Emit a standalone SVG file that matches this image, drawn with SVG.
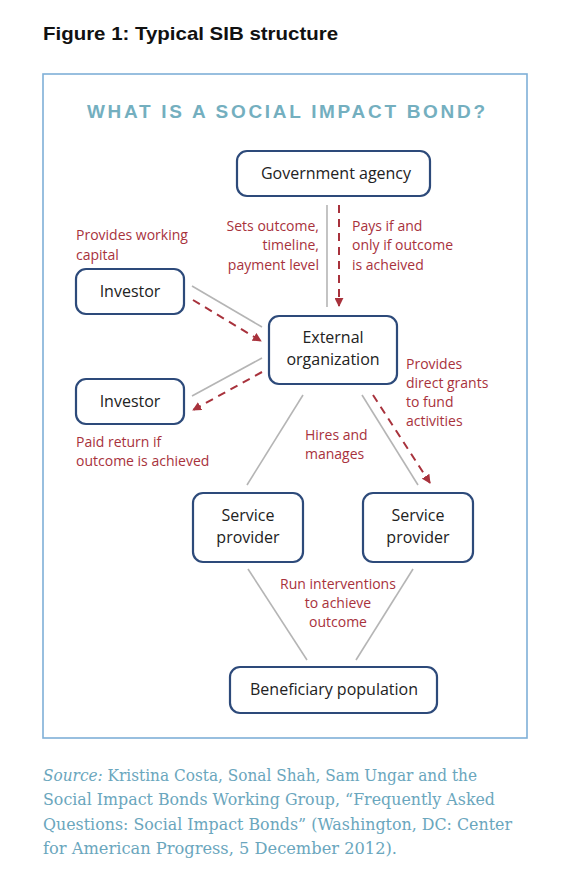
<svg xmlns="http://www.w3.org/2000/svg" width="576" height="875" viewBox="0 0 576 875">
<style>
.box{fill:#fff;stroke:#2d4a7a;stroke-width:2.2}
.nt{font-family:"Open Sans","Liberation Sans",sans-serif;font-size:16px;fill:#222;text-anchor:middle}
.lb{font-family:"Open Sans","Liberation Sans",sans-serif;font-size:14px;fill:#a8323c}
.gl{stroke:#b5b5b5;stroke-width:1.6;fill:none}
.rd{stroke:#a8323c;stroke-width:2;stroke-dasharray:8 6;fill:none;marker-end:url(#ar)}
.src{font-family:"DejaVu Serif","Liberation Serif",serif;font-size:16.5px;fill:#6aa6bd}
</style>
<defs>
<marker id="ar" viewBox="0 0 10 10" refX="9" refY="5" markerWidth="4.5" markerHeight="4.5" orient="auto" markerUnits="strokeWidth">
<path d="M0,0 L10,5 L0,10 z" fill="#a8323c"/>
</marker>
</defs>
<rect width="576" height="875" fill="#fff"/>
<text x="43" y="40" font-family="Liberation Sans,sans-serif" font-weight="bold" font-size="19" fill="#111" textLength="295" lengthAdjust="spacingAndGlyphs">Figure 1: Typical SIB structure</text>
<rect x="43" y="74" width="484" height="664" fill="none" stroke="#7fb0d8" stroke-width="1.6"/>
<text x="286" y="118" font-family="Liberation Sans,sans-serif" font-size="19" font-weight="bold" fill="#74afbf" text-anchor="middle" textLength="398">WHAT IS A SOCIAL IMPACT BOND?</text>

<g id="connectors">
<line class="gl" x1="327" y1="205" x2="327" y2="307"/>
<path class="rd" d="M339,205 L339,306"/>
<line class="gl" x1="192" y1="286" x2="262" y2="327"/>
<path class="rd" d="M193,300 L261,341"/>
<line class="gl" x1="262" y1="358" x2="192" y2="396"/>
<path class="rd" d="M262,372 L193,410"/>
<line class="gl" x1="303" y1="395" x2="247" y2="485"/>
<line class="gl" x1="362" y1="395" x2="418" y2="485"/>
<path class="rd" d="M373,395 L430,483"/>
<line class="gl" x1="248" y1="569" x2="307" y2="660"/>
<line class="gl" x1="413" y1="569" x2="356" y2="660"/>
</g>

<g id="government">
<rect class="box" x="237" y="151" width="193" height="45" rx="10"/>
<text class="nt" x="336" y="179">Government agency</text>
</g>
<g id="investor1">
<rect class="box" x="76" y="269" width="108" height="45" rx="10"/>
<text class="nt" x="130" y="297">Investor</text>
</g>
<g id="external">
<rect class="box" x="269" y="316" width="128" height="68" rx="10"/>
<text class="nt" x="333" y="343">External</text>
<text class="nt" x="333" y="365">organization</text>
</g>
<g id="investor2">
<rect class="box" x="76" y="379" width="108" height="45" rx="10"/>
<text class="nt" x="130" y="407">Investor</text>
</g>
<g id="provider1">
<rect class="box" x="193" y="493" width="110" height="69" rx="10"/>
<text class="nt" x="248" y="521">Service</text>
<text class="nt" x="248" y="543">provider</text>
</g>
<g id="provider2">
<rect class="box" x="363" y="493" width="110" height="69" rx="10"/>
<text class="nt" x="418" y="521">Service</text>
<text class="nt" x="418" y="543">provider</text>
</g>
<g id="beneficiary">
<rect class="box" x="230" y="667" width="207" height="46" rx="10"/>
<text class="nt" x="334" y="695">Beneficiary population</text>
</g>

<g id="labels">
<text class="lb" x="319" text-anchor="end"><tspan x="319" y="231">Sets outcome,</tspan><tspan x="319" y="250">timeline,</tspan><tspan x="319" y="270">payment level</tspan></text>
<text class="lb"><tspan x="352" y="231">Pays if and</tspan><tspan x="352" y="250">only if outcome</tspan><tspan x="352" y="270">is acheived</tspan></text>
<text class="lb"><tspan x="76" y="240">Provides working</tspan><tspan x="76" y="260">capital</tspan></text>
<text class="lb"><tspan x="76" y="447">Paid return if</tspan><tspan x="76" y="466">outcome is achieved</tspan></text>
<text class="lb"><tspan x="406" y="369">Provides</tspan><tspan x="406" y="388">direct grants</tspan><tspan x="406" y="407">to fund</tspan><tspan x="406" y="426">activities</tspan></text>
<text class="lb"><tspan x="305" y="440">Hires and</tspan><tspan x="305" y="459">manages</tspan></text>
<text class="lb" text-anchor="middle"><tspan x="338" y="589">Run interventions</tspan><tspan x="338" y="608">to achieve</tspan><tspan x="338" y="627">outcome</tspan></text>
</g>

<g id="source">
<text class="src" x="43" y="781" textLength="434" lengthAdjust="spacingAndGlyphs"><tspan font-style="italic">Source:</tspan> Kristina Costa, Sonal Shah, Sam Ungar and the</text>
<text class="src" x="43" y="805" textLength="452" lengthAdjust="spacingAndGlyphs">Social Impact Bonds Working Group, “Frequently Asked</text>
<text class="src" x="43" y="830" textLength="469" lengthAdjust="spacingAndGlyphs">Questions: Social Impact Bonds” (Washington, DC: Center</text>
<text class="src" x="43" y="854" textLength="354" lengthAdjust="spacingAndGlyphs">for American Progress, 5 December 2012).</text>
</g>
</svg>
